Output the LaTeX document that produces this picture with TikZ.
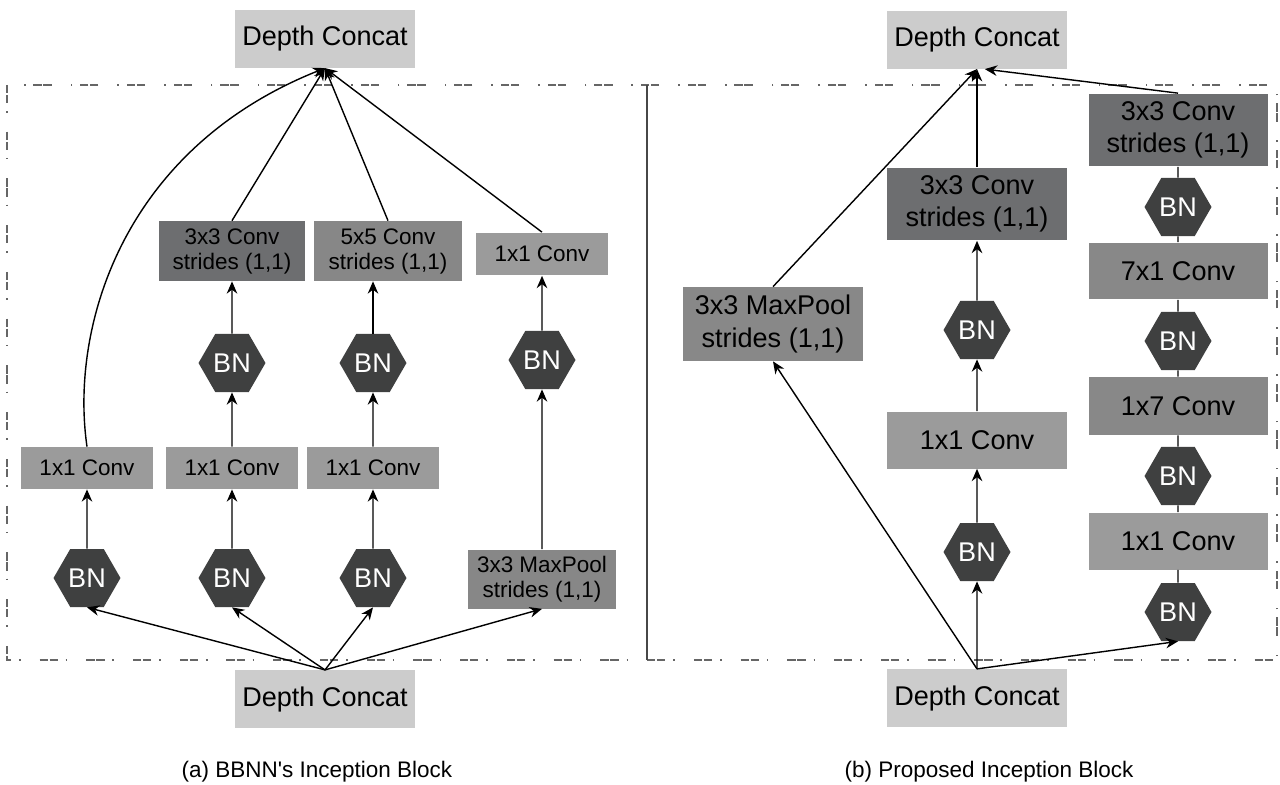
\documentclass[tikz,border=0pt]{standalone}
\usepackage{fontspec}
\setmainfont{Liberation Sans}[Ligatures=TeXOff]
\usepackage{xcolor}
\usetikzlibrary{shapes.geometric, arrows.meta, positioning, calc}
\definecolor{concatgray}{HTML}{CCCCCC}
\definecolor{convdark}{HTML}{6D6E70}
\definecolor{convmid}{HTML}{878787}
\definecolor{convlight}{HTML}{9B9B9B}
\definecolor{poolgray}{HTML}{888888}
\definecolor{bngray}{HTML}{3F4040}
\definecolor{framegray}{HTML}{666666}

\begin{document}
\begin{tikzpicture}[x=0.02cm, y=-0.02cm,
    bigtxt/.style={font=\fontsize{15.4}{18.5}\selectfont},
    smalltxt/.style={font=\fontsize{12.8}{14.2}\selectfont},
    box/.style={rectangle, inner sep=0pt, align=center, text=black},
    concat/.style={box, bigtxt, fill=concatgray, minimum width=3.6cm, minimum height=1.15cm},
    bn/.style={regular polygon, regular polygon sides=6, minimum size=1.34cm, inner sep=0pt,
      fill=bngray, text=white, bigtxt},
    arr/.style={-{Stealth[length=7pt, width=6pt]}, line width=0.8pt},
    link/.style={line width=0.8pt},
    frame/.style={draw=framegray, line width=0.8pt,
      dash pattern=on 4.7pt off 1pt on 4.7pt off 4.5pt on 0.9pt off 10.8pt}]

    \useasboundingbox (0,0) rectangle (1280,784);

    \draw [frame] (7,85) rectangle (1277,660);
    \draw [framegray!70!black, line width=0.6pt] (647,85) -- (647,660);

    % (a) left block
    \node[concat] (topL) at (325,39) {Depth Concat};
    \node[concat] (botL) at (325,699) {Depth Concat};

    \node[bn] (bnA1) at (87,578) {BN};
    \node[bn] (bnB1) at (232,578) {BN};
    \node[bn] (bnC1) at (373,578) {BN};
    \node[box, smalltxt, fill=convmid, minimum width=2.96cm, minimum height=1.18cm] (mpL) at (542,579)
      {3x3 MaxPool\\strides (1,1)};

    \node[box, smalltxt, fill=convlight, minimum width=2.66cm, minimum height=0.84cm] (cvA) at (87,468) {1x1 Conv};
    \node[box, smalltxt, fill=convlight, minimum width=2.66cm, minimum height=0.84cm] (cvB) at (232,468) {1x1 Conv};
    \node[box, smalltxt, fill=convlight, minimum width=2.66cm, minimum height=0.84cm] (cvC) at (373,468) {1x1 Conv};

    \node[bn] (bnB2) at (232,363) {BN};
    \node[bn] (bnC2) at (373,363) {BN};
    \node[bn] (bnD2) at (542,360) {BN};

    \node[box, smalltxt, fill=convdark, minimum width=2.94cm, minimum height=1.2cm] (c33L) at (232,251)
      {3x3 Conv\\strides (1,1)};
    \node[box, smalltxt, fill=convmid, minimum width=2.96cm, minimum height=1.2cm] (c55L) at (388,251)
      {5x5 Conv\\strides (1,1)};
    \node[box, smalltxt, fill=convlight, minimum width=2.66cm, minimum height=0.86cm] (c11L) at (542,254) {1x1 Conv};

    \draw [arr] (botL.north) -- (bnA1.south);
    \draw [arr] (botL.north) -- (bnB1.south);
    \draw [arr] (botL.north) -- (bnC1.south);
    \draw [arr] (botL.north) -- (mpL.south);

    \draw [arr] (bnA1) -- (cvA);
    \draw [arr] (bnB1) -- (cvB);
    \draw [arr] (bnC1) -- (cvC);
    \draw [arr] (cvB) -- (bnB2);
    \draw [arr] (cvC) -- (bnC2);
    \draw [arr] (mpL) -- (bnD2);
    \draw [arr] (bnB2) -- (c33L);
    \draw [arr] (bnC2.north) -- (bnC2.north |- c55L.south);
    \draw [arr] (bnD2) -- (c11L);

    \draw [arr] (cvA.north) .. controls (70,330) and (120,150) .. (topL.south);
    \draw [arr] (c33L.north) -- (topL.south);
    \draw [arr] (c55L.north) -- (topL.south);
    \draw [arr] (c11L.north) -- (topL.south);

    \node[smalltxt] (capA) at (317,772) {(a) BBNN's Inception Block};

    % (b) right block
    \node[concat] (topR) at (977,40) {Depth Concat};
    \node[concat] (botR) at (977,698) {Depth Concat};

    \node[box, bigtxt, fill=poolgray, minimum width=3.6cm, minimum height=1.48cm] (mpR) at (773,324)
      {3x3 MaxPool\\strides (1,1)};

    \node[bn] (bnM2) at (977,552) {BN};
    \node[box, bigtxt, fill=convlight, minimum width=3.6cm, minimum height=1.14cm] (cvM) at (977,440) {1x1 Conv};
    \node[bn] (bnM1) at (977,330) {BN};
    \node[box, bigtxt, fill=convdark, minimum width=3.6cm, minimum height=1.46cm] (c33M) at (977,204)
      {3x3 Conv\\strides (1,1)};

    \node[bn] (bnR4) at (1178,612) {BN};
    \node[box, bigtxt, fill=convlight, minimum width=3.58cm, minimum height=1.14cm] (cvR) at (1178,541) {1x1 Conv};
    \node[bn] (bnR3) at (1178,476) {BN};
    \node[box, bigtxt, fill=poolgray, minimum width=3.58cm, minimum height=1.16cm] (c17) at (1178,406) {1x7 Conv};
    \node[bn] (bnR2) at (1178,341) {BN};
    \node[box, bigtxt, fill=poolgray, minimum width=3.58cm, minimum height=1.14cm] (c71) at (1178,271) {7x1 Conv};
    \node[bn] (bnR1) at (1178,207) {BN};
    \node[box, bigtxt, fill=convdark, minimum width=3.58cm, minimum height=1.46cm] (c33R) at (1178,130)
      {3x3 Conv\\strides (1,1)};

    \draw [arr] (botR.north) -- (mpR.south);
    \draw [arr] (botR.north) -- (bnM2.south);
    \draw [arr] (botR.north) -- (bnR4.south);

    \draw [arr] (bnM2) -- (cvM);
    \draw [arr] (cvM) -- (bnM1);
    \draw [arr] (bnM1) -- (c33M);

    \draw [link] (bnR4) -- (cvR);
    \draw [link] (cvR) -- (bnR3);
    \draw [link] (bnR3) -- (c17);
    \draw [link] (c17) -- (bnR2);
    \draw [link] (bnR2) -- (c71);
    \draw [link] (c71) -- (bnR1);
    \draw [link] (bnR1) -- (c33R);

    \draw [arr] (mpR.north) -- (topR.south);
    \draw [arr] (c33M) -- (topR);
    \draw [arr] (c33R.north) -- (topR.-75);

    \node[smalltxt] (capB) at (989,772) {(b) Proposed Inception Block};
\end{tikzpicture}
\end{document}
